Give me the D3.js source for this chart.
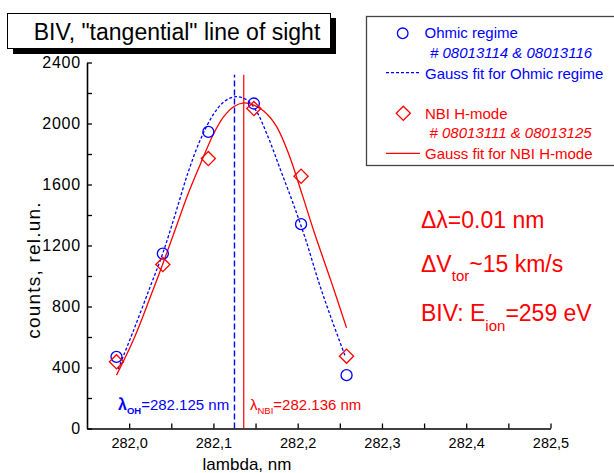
<!DOCTYPE html>
<html>

<head>
    <title>BIV tangential line of sight</title>
    <script src="https://d3js.org/d3.v7.min.js"></script>
    <style>
        body { margin: 0; background: #fff; }
        svg { font-family: "Liberation Sans", Arial, sans-serif; }
    </style>
</head>

<body>
    <svg id="chart"></svg>

    <script>
        // measured points (same wavelengths for both regimes)
        const lambdaPts = [281.985, 282.040, 282.094, 282.148, 282.204, 282.258];
        const ohmicCounts = [470, 1147, 1945, 2131, 1340, 350];
        const nbiCounts = [437, 1075, 1770, 2098, 1654, 474];

        // Gauss fit curves
        const ohmicFitLambda = [281.987, 282.005, 282.025, 282.040, 282.055, 282.070, 282.085, 282.100, 282.112,
            282.125, 282.138, 282.150, 282.165, 282.180, 282.195, 282.210, 282.225, 282.240, 282.256];
        const ohmicFitCounts = [390, 640, 930, 1150, 1410, 1680, 1900, 2060, 2140,
            2175, 2160, 2090, 1910, 1690, 1470, 1230, 960, 720, 480];

        const nbiFitLambda = [281.985, 282.005, 282.025, 282.040, 282.055, 282.070, 282.085, 282.100, 282.112,
            282.124, 282.136, 282.148, 282.160, 282.175, 282.190, 282.205, 282.220, 282.240, 282.258];
        const nbiFitCounts = [350, 580, 860, 1080, 1310, 1540, 1740, 1930, 2043,
            2110, 2135, 2120, 2080, 1980, 1790, 1540, 1280, 960, 660];

        // line centres
        const centerOH = 282.125;
        const centerNBI = 282.136;
        const centerTop = 2320;

        const xTicks = [282.0, 282.1, 282.2, 282.3, 282.4, 282.5];
        const xMinor = [282.05, 282.15, 282.25, 282.35, 282.45];
        const yTicks = [0, 400, 800, 1200, 1600, 2000, 2400];
        const yMinor = [200, 600, 1000, 1400, 1800, 2200];

        const width = 614;
        const height = 473;
        const blue = '#0000ff';
        const red = '#ff0000';

        const svg = d3.select('#chart')
            .attr('width', width)
            .attr('height', height);

        const x = d3.scaleLinear().domain([281.95, 282.5]).range([87, 550.5]);
        const y = d3.scaleLinear().domain([0, 2400]).range([428.5, 62.5]);

        // axes, ticks pointing inward
        const xAxis = svg.append('g')
            .attr('transform', `translate(0,${y(0)})`)
            .call(d3.axisBottom(x).tickValues(xTicks).tickSizeInner(-5).tickSizeOuter(0).tickPadding(9)
                .tickFormat(d => d3.format('.1f')(d).replace('.', ',')));
        svg.append('g')
            .attr('transform', `translate(0,${y(0)})`)
            .call(d3.axisBottom(x).tickValues(xMinor).tickSize(-5).tickFormat(''))
            .select('.domain').remove();

        const yAxis = svg.append('g')
            .attr('transform', `translate(${x.range()[0]},0)`)
            .call(d3.axisLeft(y).tickValues(yTicks).tickSizeInner(-5).tickSizeOuter(0).tickPadding(6)
                .tickFormat(d3.format('d')));
        svg.append('g')
            .attr('transform', `translate(${x.range()[0]},0)`)
            .call(d3.axisLeft(y).tickValues(yMinor).tickSize(-5).tickFormat(''))
            .select('.domain').remove();

        svg.selectAll('.domain').attr('stroke-width', 1.6);
        svg.selectAll('.tick line').attr('stroke-width', 1.3);
        svg.selectAll('.tick text')
            .attr('font-family', '"Liberation Sans", Arial, sans-serif')
            .attr('font-size', 14.5)
            .attr('fill', '#000');
        yAxis.selectAll('.tick text')
            .attr('font-size', 16)
            .attr('letter-spacing', 0.8);

        // axis titles
        svg.append('text')
            .attr('x', 247).attr('y', 470)
            .attr('text-anchor', 'middle')
            .attr('font-size', 17)
            .text('lambda, nm');

        svg.append('text')
            .attr('transform', 'translate(40,270) rotate(-90)')
            .attr('text-anchor', 'middle')
            .attr('font-size', 19)
            .attr('letter-spacing', 1.2)
            .text('counts, rel.un.');

        // line centre markers
        svg.append('line')
            .attr('x1', x(centerOH)).attr('x2', x(centerOH))
            .attr('y1', y(0)).attr('y2', y(centerTop))
            .attr('stroke', blue).attr('stroke-width', 1.4)
            .attr('stroke-dasharray', '6,3');
        svg.append('line')
            .attr('x1', x(centerNBI)).attr('x2', x(centerNBI))
            .attr('y1', y(0)).attr('y2', y(centerTop))
            .attr('stroke', red).attr('stroke-width', 1.2);

        // fit curves
        const line = d3.line()
            .x(d => x(d[0]))
            .y(d => y(d[1]))
            .curve(d3.curveCatmullRom);

        svg.append('path')
            .datum(d3.zip(ohmicFitLambda, ohmicFitCounts))
            .attr('d', line)
            .attr('fill', 'none')
            .attr('stroke', blue)
            .attr('stroke-width', 1.3)
            .attr('stroke-dasharray', '3,2');

        svg.append('path')
            .datum(d3.zip(nbiFitLambda, nbiFitCounts))
            .attr('d', line)
            .attr('fill', 'none')
            .attr('stroke', red)
            .attr('stroke-width', 1.3);

        // measured points
        svg.selectAll('.ohmic')
            .data(d3.zip(lambdaPts, ohmicCounts))
            .enter()
            .append('circle')
            .attr('class', 'ohmic')
            .attr('cx', d => x(d[0]))
            .attr('cy', d => y(d[1]))
            .attr('r', 5.5)
            .attr('fill', 'none')
            .attr('stroke', blue)
            .attr('stroke-width', 1.3);

        const diamond = d3.symbol().type(d3.symbolSquare).size(100);
        svg.selectAll('.nbi')
            .data(d3.zip(lambdaPts, nbiCounts))
            .enter()
            .append('path')
            .attr('class', 'nbi')
            .attr('d', diamond)
            .attr('transform', d => `translate(${x(d[0])},${y(d[1])}) rotate(45)`)
            .attr('fill', 'none')
            .attr('stroke', red)
            .attr('stroke-width', 1.3);

        // title box with shadow
        svg.append('rect')
            .attr('x', 13).attr('y', 18).attr('width', 323).attr('height', 36)
            .attr('fill', '#000');
        svg.append('rect')
            .attr('x', 7.5).attr('y', 13.5).attr('width', 323).attr('height', 35)
            .attr('fill', '#fff').attr('stroke', '#000').attr('stroke-width', 1);
        svg.append('text')
            .attr('x', 177).attr('y', 39.5)
            .attr('text-anchor', 'middle')
            .attr('font-size', 23)
            .text('BIV, "tangential" line of sight');

        // legend
        const legend = svg.append('g');
        legend.append('rect')
            .attr('x', 366.5).attr('y', 16.5).attr('width', 260).attr('height', 149)
            .attr('fill', '#fff').attr('stroke', '#444').attr('stroke-width', 1.3);

        legend.append('circle')
            .attr('cx', 402.7).attr('cy', 33.3).attr('r', 5.3)
            .attr('fill', 'none').attr('stroke', blue).attr('stroke-width', 1.3);
        legend.append('path')
            .attr('d', diamond)
            .attr('transform', 'translate(403.3,113.3) rotate(45)')
            .attr('fill', 'none').attr('stroke', red).attr('stroke-width', 1.3);
        legend.append('line')
            .attr('x1', 386).attr('x2', 420).attr('y1', 72.7).attr('y2', 72.7)
            .attr('stroke', blue).attr('stroke-width', 1.3).attr('stroke-dasharray', '3,2');
        legend.append('line')
            .attr('x1', 386).attr('x2', 420).attr('y1', 153.3).attr('y2', 153.3)
            .attr('stroke', red).attr('stroke-width', 1.3);

        const legendText = [
            { x: 424.5, y: 38, text: 'Ohmic regime', color: blue, italic: false },
            { x: 430, y: 58, text: '# 08013114 & 08013116', color: blue, italic: true },
            { x: 425, y: 78.5, text: 'Gauss fit for Ohmic regime', color: blue, italic: false },
            { x: 425, y: 118.5, text: 'NBI H-mode', color: red, italic: false },
            { x: 429.5, y: 138, text: '# 08013111 & 08013125', color: red, italic: true },
            { x: 425, y: 158.5, text: 'Gauss fit for NBI H-mode', color: red, italic: false }
        ];
        legend.selectAll('.ltext')
            .data(legendText)
            .enter()
            .append('text')
            .attr('class', 'ltext')
            .attr('x', d => d.x)
            .attr('y', d => d.y)
            .attr('fill', d => d.color)
            .attr('font-size', 15)
            .attr('font-style', d => d.italic ? 'italic' : 'normal')
            .text(d => d.text);

        // annotations on the right
        const note = svg.append('g').attr('fill', red).attr('font-size', 23);
        note.append('text').attr('x', 421).attr('y', 228).text('\u0394\u03bb=0.01 nm');

        const t2 = note.append('text').attr('x', 421).attr('y', 272);
        t2.append('tspan').text('\u0394V');
        t2.append('tspan').attr('font-size', 15).attr('dy', 9).text('tor');
        t2.append('tspan').attr('dy', -9).text('~15 km/s');

        const t3 = note.append('text').attr('x', 421).attr('y', 321);
        t3.append('tspan').text('BIV: E');
        t3.append('tspan').attr('font-size', 15).attr('dy', 10).text('ion');
        t3.append('tspan').attr('dy', -10).text('=259 eV');

        // centre values near the axis
        const lo = svg.append('text').attr('x', 118).attr('y', 410).attr('fill', blue).attr('font-size', 15);
        lo.append('tspan').attr('font-weight', 'bold').attr('font-size', 16).text('\u03bb');
        lo.append('tspan').attr('font-weight', 'bold').attr('font-size', 9.5).attr('dy', 4).text('OH');
        lo.append('tspan').attr('dy', -4).text('=282.125 nm');

        const ln = svg.append('text').attr('x', 250).attr('y', 410).attr('fill', red).attr('font-size', 15);
        ln.append('tspan').text('\u03bb');
        ln.append('tspan').attr('font-size', 9.5).attr('dy', 4).text('NBI');
        ln.append('tspan').attr('dy', -4).text('=282.136 nm');
    </script>
</body>

</html>
